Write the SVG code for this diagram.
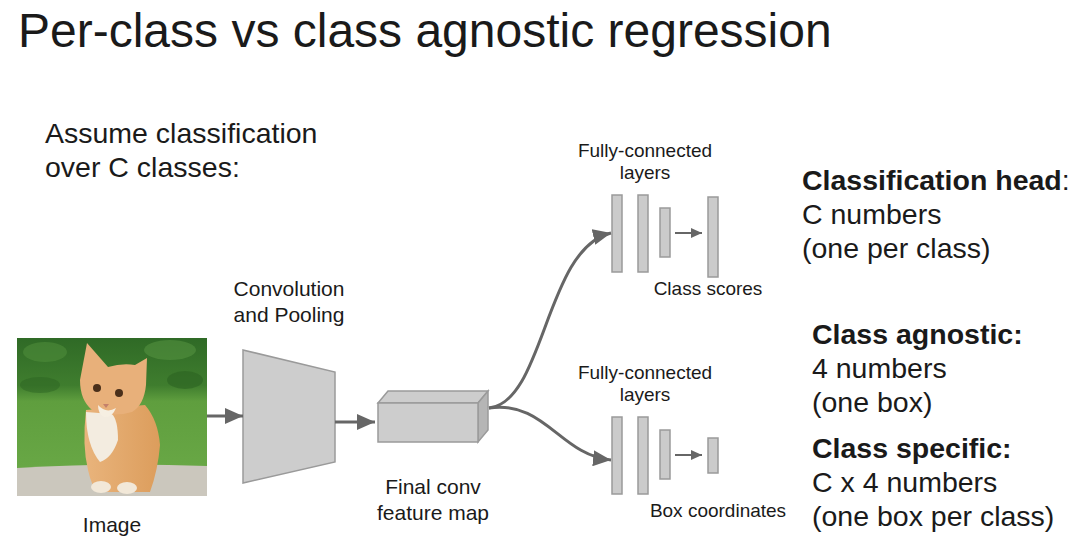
<svg xmlns="http://www.w3.org/2000/svg" width="1080" height="550" viewBox="0 0 1080 550">
<defs>
<style>
text{font-family:"Liberation Sans",Arial,sans-serif;fill:#1a1a1a}
.t28{font-size:28.5px}
.b{font-weight:bold}
.l21{font-size:21px;text-anchor:middle}
.l19{font-size:19px;text-anchor:middle}
.shape{fill:#cdcdcd;stroke:#9a9a9a;stroke-width:1.5}
.bar{fill:#cbcbcb;stroke:#9a9a9a;stroke-width:1.5}
.conn{fill:none;stroke:#666;stroke-width:3}
.sconn{fill:none;stroke:#666;stroke-width:2}
</style>
<marker id="ah" markerUnits="userSpaceOnUse" markerWidth="20" markerHeight="16" refX="18" refY="8" orient="auto">
<path d="M0,0 L18,8 L0,16 Z" fill="#666"/>
</marker>
<marker id="ahs" markerUnits="userSpaceOnUse" markerWidth="12" markerHeight="10" refX="11" refY="5" orient="auto">
<path d="M0,0 L11,5 L0,10 Z" fill="#666"/>
</marker>
<linearGradient id="grass" x1="0" y1="0" x2="0" y2="1">
<stop offset="0" stop-color="#2f6a26"/>
<stop offset="0.3" stop-color="#3f7d2e"/>
<stop offset="0.4" stop-color="#5f9e3e"/>
<stop offset="1" stop-color="#6cab48"/>
</linearGradient>
<linearGradient id="fur" x1="0" y1="0" x2="1" y2="0">
<stop offset="0" stop-color="#e9b47c"/>
<stop offset="1" stop-color="#dc9d5c"/>
</linearGradient>
</defs>
<rect width="1080" height="550" fill="#ffffff"/>

<text x="18" y="47" style="font-size:48px">Per-class vs class agnostic regression</text>

<g id="intro">
<text class="t28" x="45" y="143">Assume classification</text>
<text class="t28" x="45" y="177">over C classes:</text>
</g>

<g id="image">
<rect x="17" y="338" width="190" height="158" fill="url(#grass)"/>
<ellipse cx="45" cy="352" rx="22" ry="10" fill="#4f8c3a" opacity="0.6"/>
<ellipse cx="170" cy="350" rx="26" ry="10" fill="#5a9844" opacity="0.5"/>
<ellipse cx="185" cy="380" rx="18" ry="9" fill="#2c6322" opacity="0.6"/>
<ellipse cx="40" cy="385" rx="20" ry="8" fill="#2c6322" opacity="0.5"/>
<path d="M17,468 Q110,462 207,466 L207,496 L17,496 Z" fill="#cbc7bd"/>
<path d="M86,410 Q82,445 88,470 Q92,488 98,492 L150,492 Q158,470 160,445 Q158,420 145,405 Z" fill="url(#fur)"/>
<path d="M86,412 Q86,445 100,462 Q112,458 118,440 Q118,420 112,414 Z" fill="#f3ece0"/>
<path d="M80,380 L87,343 L108,367 Q122,363 135,365 L147,358 L146,385 Q144,405 132,412 Q112,418 92,410 Q80,400 80,380 Z" fill="#e8b07a"/>
<path d="M98,405 Q106,414 116,408 Q112,418 104,417 Q98,414 98,405 Z" fill="#f6efe2"/>
<circle cx="97" cy="388" r="4" fill="#4a2f1a"/>
<circle cx="119" cy="393" r="4" fill="#4a2f1a"/>
<path d="M103,404 L109,404 L106,408 Z" fill="#c4806a"/>
<ellipse cx="101" cy="487" rx="10" ry="6" fill="#f2e8d8"/>
<ellipse cx="127" cy="488" rx="10" ry="6" fill="#f2e8d8"/>
</g>
<text class="l21" x="112" y="532">Image</text>

<g id="conv">
<path class="shape" d="M243,350 L335,372 L335,462 L243,483 Z"/>
<text class="l21" x="289" y="296">Convolution</text>
<text class="l21" x="289" y="322">and Pooling</text>
</g>

<g id="featuremap">
<path class="shape" d="M378,403 L388,391 L488,391 L478,403 Z"/>
<path class="shape" d="M478,403 L488,391 L488,430 L478,442 Z" style="fill:#b5b5b5"/>
<rect class="shape" x="378" y="403" width="100" height="39"/>
<text class="l21" x="433" y="494">Final conv</text>
<text class="l21" x="433" y="520">feature map</text>
</g>

<g id="fc-class">
<text class="l19" x="645" y="157">Fully-connected</text>
<text class="l19" x="645" y="179">layers</text>
<rect class="bar" x="612" y="195" width="10" height="77"/>
<rect class="bar" x="638" y="195" width="10" height="77"/>
<rect class="bar" x="660" y="208" width="10" height="49"/>
<rect class="bar" x="708" y="197" width="10" height="80"/>
<text class="l19" x="708" y="295">Class scores</text>
</g>

<g id="fc-box">
<text class="l19" x="645" y="379">Fully-connected</text>
<text class="l19" x="645" y="401">layers</text>
<rect class="bar" x="612" y="417" width="10" height="77"/>
<rect class="bar" x="638" y="417" width="10" height="77"/>
<rect class="bar" x="660" y="430" width="10" height="49"/>
<rect class="bar" x="708" y="438" width="10" height="35"/>
<text class="l19" x="718" y="517">Box coordinates</text>
</g>

<g id="connectors">
<path class="conn" d="M207,416 L243,416" marker-end="url(#ah)"/>
<path class="conn" d="M335,422 L375,422" marker-end="url(#ah)"/>
<path class="conn" d="M489,408 C545,402 545,248 611,233" marker-end="url(#ah)"/>
<path class="conn" d="M489,408 C545,400 560,455 611,460" marker-end="url(#ah)"/>
<path class="sconn" d="M675,233 L702,233" marker-end="url(#ahs)"/>
<path class="sconn" d="M675,455 L702,455" marker-end="url(#ahs)"/>
</g>

<g id="notes">
<text class="t28" x="802" y="190"><tspan class="b">Classification head</tspan>:</text>
<text class="t28" x="802" y="224">C numbers</text>
<text class="t28" x="802" y="258">(one per class)</text>
<text class="t28 b" x="812" y="344">Class agnostic:</text>
<text class="t28" x="812" y="378">4 numbers</text>
<text class="t28" x="812" y="412">(one box)</text>
<text class="t28 b" x="812" y="458">Class specific:</text>
<text class="t28" x="812" y="492">C x 4 numbers</text>
<text class="t28" x="812" y="526">(one box per class)</text>
</g>
</svg>
